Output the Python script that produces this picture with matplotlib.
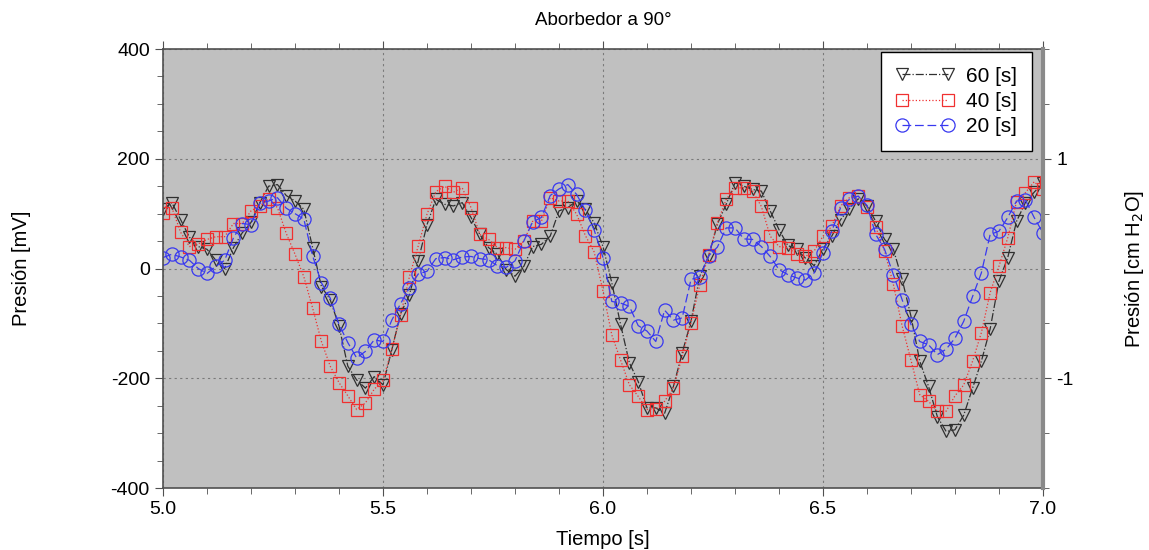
import numpy as np
import matplotlib
matplotlib.use("Agg")
import matplotlib.pyplot as plt
from matplotlib.ticker import MultipleLocator, FixedLocator

plt.rcParams['font.family'] = ['Liberation Sans', 'DejaVu Sans']
plt.rcParams['axes.unicode_minus'] = False

# sample times (s), one sample every 20 ms
tiempo = np.round(np.arange(5.0, 7.0001, 0.02), 2)

# pressure in mV for each absorber period
p60 = [108, 120, 89, 57, 40, 35, 15, 0, 38, 65,
       84, 120, 150, 153, 133, 123, 108, 38, -33, -57,
       -105, -178, -203, -218, -197, -212, -148, -82, -48, 14,
       80, 126, 117, 114, 120, 93, 62, 38, 26, -2,
       -14, 4, 40, 44, 59, 105, 111, 123, 108, 83,
       40, -26, -102, -172, -206, -254, -254, -264, -215, -154,
       -96, -14, 22, 81, 117, 156, 150, 144, 141, 105,
       71, 42, 35, 19, 5, 36, 59, 89, 109, 127,
       114, 86, 53, 35, -20, -87, -169, -215, -270, -297,
       -294, -267, -218, -169, -110, -23, 20, 86, 120, 139,
       156]
p40 = [102, 111, 66, 40, 45, 53, 58, 58, 82, 82,
       105, 114, 127, 111, 64, 26, -15, -72, -133, -178,
       -208, -232, -257, -245, -220, -204, -147, -85, -15, 41,
       99, 140, 150, 139, 147, 111, 62, 53, 38, 38,
       35, 50, 86, 86, 129, 123, 123, 99, 60, 30,
       -41, -121, -167, -212, -233, -257, -256, -242, -218, -160,
       -99, -30, 24, 83, 126, 147, 147, 141, 113, 59,
       40, 38, 26, 22, 32, 59, 77, 114, 129, 132,
       112, 75, 32, -29, -105, -167, -230, -242, -260, -260,
       -232, -212, -169, -117, -44, 4, 56, 122, 138, 158,
       144]
p20 = [20, 26, 21, 15, 0, -9, 4, 15, 56, 82,
       80, 119, 123, 129, 110, 100, 90, 23, -26, -54,
       -102, -135, -163, -151, -130, -133, -94, -64, -35, -10,
       -5, 18, 20, 16, 21, 22, 18, 16, 5, 2,
       14, 50, 85, 93, 133, 145, 153, 135, 106, 70,
       20, -60, -63, -69, -104, -114, -133, -76, -94, -90,
       -20, -15, 23, 39, 74, 74, 54, 53, 40, 22,
       -2, -11, -17, -21, -8, 29, 68, 111, 126, 132,
       115, 62, 35, -11, -57, -102, -133, -139, -157, -147,
       -127, -96, -51, -8, 62, 68, 93, 123, 125, 93,
       65]

series = [
    ("60 [s]", p60, '#303030', 'v', '-.', 8.5),
    ("40 [s]", p40, '#f03030', 's', ':', 8.5),
    ("20 [s]", p20, '#3838f0', 'o', (0, (7, 3)), 9.5),
]

fig = plt.figure(figsize=(11.49, 5.5), dpi=100)
ax = fig.add_axes([0.1419, 0.1127, 0.7658, 0.7982])
ax.set_facecolor('#c0c0c0')

for label, vals, color, marker, ls, ms in series:
    ax.plot(tiempo, vals, color=color, linestyle=ls, linewidth=0.9,
            marker=marker, markersize=ms, markerfacecolor='none',
            markeredgecolor=color, markeredgewidth=0.9, label=label)

ax.set_xlim(5.0, 7.0)
ax.set_ylim(-400, 400)
ax.xaxis.set_major_locator(MultipleLocator(0.5))
ax.xaxis.set_minor_locator(MultipleLocator(0.1))
ax.yaxis.set_major_locator(MultipleLocator(200))
ax.yaxis.set_minor_locator(MultipleLocator(50))
ax.xaxis.set_major_formatter(plt.FuncFormatter(lambda v, p: f"{v:.1f}"))
ax.tick_params(axis='both', which='both', direction='out', colors='#505050',
               labelcolor='black', labelsize=14)
ax.tick_params(axis='x', which='both', top=True)
ax.tick_params(which='major', length=6)
ax.tick_params(which='minor', length=4)
ax.grid(True, which='major', linestyle=(0, (2, 3)), color='#7a7a7a', linewidth=0.8)
ax.set_axisbelow(True)
for side in ['left', 'bottom', 'top']:
    ax.spines[side].set_color('#505050')
    ax.spines[side].set_linewidth(1.2)

ax.set_xlabel('Tiempo [s]', fontsize=14.5)
ax.xaxis.set_label_coords(0.5, -0.095)
ax.set_ylabel('Presión [mV]', fontsize=14.5)
ax.yaxis.set_label_coords(-0.15, 0.5)
ax.set_title('Aborbedor a 90°', fontsize=13.5, pad=17)

# secondary pressure scale in cm of water
ax2 = ax.twinx()
ax2.set_ylim(-2, 2)
ax2.yaxis.set_major_locator(FixedLocator([-1, 1]))
ax2.yaxis.set_minor_locator(MultipleLocator(0.5))
ax2.tick_params(which='both', direction='out', colors='#505050',
                labelcolor='black', labelsize=14)
ax2.tick_params(which='major', length=6)
ax2.tick_params(which='minor', length=4)
ax2.spines['right'].set_color('#8a8a8a')
ax2.spines['right'].set_linewidth(3)
for side in ['left', 'bottom', 'top']:
    ax2.spines[side].set_visible(False)
ax2.set_ylabel('Presión [cm H$_2$O]', fontsize=14.5)
ax2.yaxis.set_label_coords(1.091, 0.5)

leg = ax.legend(loc='upper right', bbox_to_anchor=(0.9875, 0.993),
                borderaxespad=0, fontsize=15, numpoints=2, handlelength=2.8,
                fancybox=False, framealpha=1, edgecolor='black',
                labelspacing=0.3, borderpad=0.7, handletextpad=0.6)
leg.get_frame().set_linewidth(1.0)

fig.savefig('out.png', dpi=100)
